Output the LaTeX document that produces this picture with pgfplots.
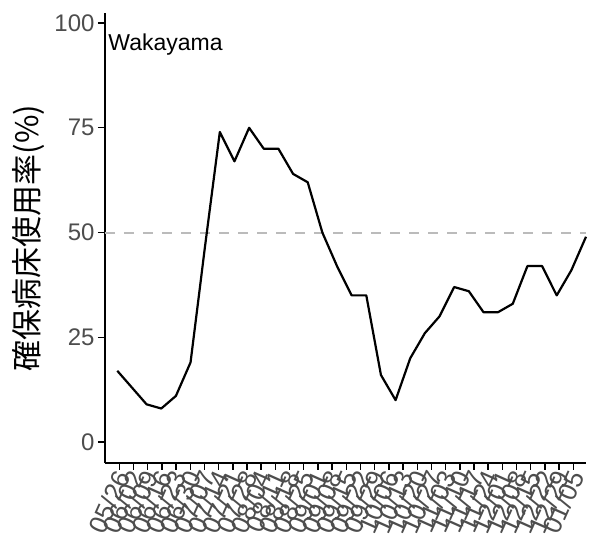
\documentclass[border=0pt]{standalone}
\usepackage{pgfplots}
\pgfplotsset{compat=1.18}
\usepackage{fontspec}
\setmainfont{Liberation Sans}
\newfontfamily\jp{Noto Sans CJK JP}
\definecolor{ticktext}{HTML}{4D4D4D}
\definecolor{refline}{HTML}{BBBBBB}

\begin{document}
\begin{tikzpicture}
	\useasboundingbox (-105pt,-85pt) rectangle (491pt,463pt);
	\begin{axis}[
		scale only axis,
		width=481pt, height=450pt,
		at={(0pt,0pt)}, anchor=south west,
		xmin=-0.84, xmax=32,
		ymin=-5, ymax=102.4,
		axis x line=bottom, axis y line=left,
		axis line style={-, line width=1.5pt, black},
		tick style={line width=1.4pt, black},
		major tick length=7pt,
		tick align=outside,
		ytick={0,25,50,75,100},
		xtick={0.136,1.1047,...,31.14},
		xticklabels={05/26,06/02,06/09,06/16,06/23,06/30,07/07,07/14,07/21,07/28,
			08/04,08/11,08/18,08/25,09/01,09/08,09/15,09/22,09/29,10/06,
			10/13,10/20,10/27,11/03,11/10,11/17,11/24,12/01,12/08,12/15,
			12/22,12/29,01/05},
		/pgf/number format/assume math mode=true,
		y tick label style={font=\fontsize{24}{24}\selectfont, text=ticktext},
		x tick label style={font=\fontsize{26}{26}\selectfont, text=ticktext,
			rotate=66, anchor=east, inner sep=1pt, yshift=-4pt},
		ylabel={\jp 確保病床使用率(\%)},
		ylabel style={font=\fontsize{31}{31}\selectfont, anchor=center,
			at={(axis description cs:-0.16,0.5)}},
		clip=false,
		]
		\addplot[refline, line width=2pt, dash pattern=on 10pt off 9pt]
			coordinates {(-0.84,50) (32,50)};
		\addplot[black, line width=2.2pt, line join=round]
		coordinates {
			(0,17) (1,13) (2,9) (3,8) (4,11) (5,19) (6,47) (7,74) (8,67) (9,75)
			(10,70) (11,70) (12,64) (13,62) (14,50) (15,42) (16,35) (17,35)
			(18,16) (19,10) (20,20) (21,26) (22,30) (23,37) (24,36) (25,31)
			(26,31) (27,33) (28,42) (29,42) (30,35) (31,41) (32,49)};
		\node[anchor=north west, font=\fontsize{23}{23}\selectfont, inner sep=0pt]
			at (axis cs:-0.62,97.5) {Wakayama};
	\end{axis}
\end{tikzpicture}
\end{document}
